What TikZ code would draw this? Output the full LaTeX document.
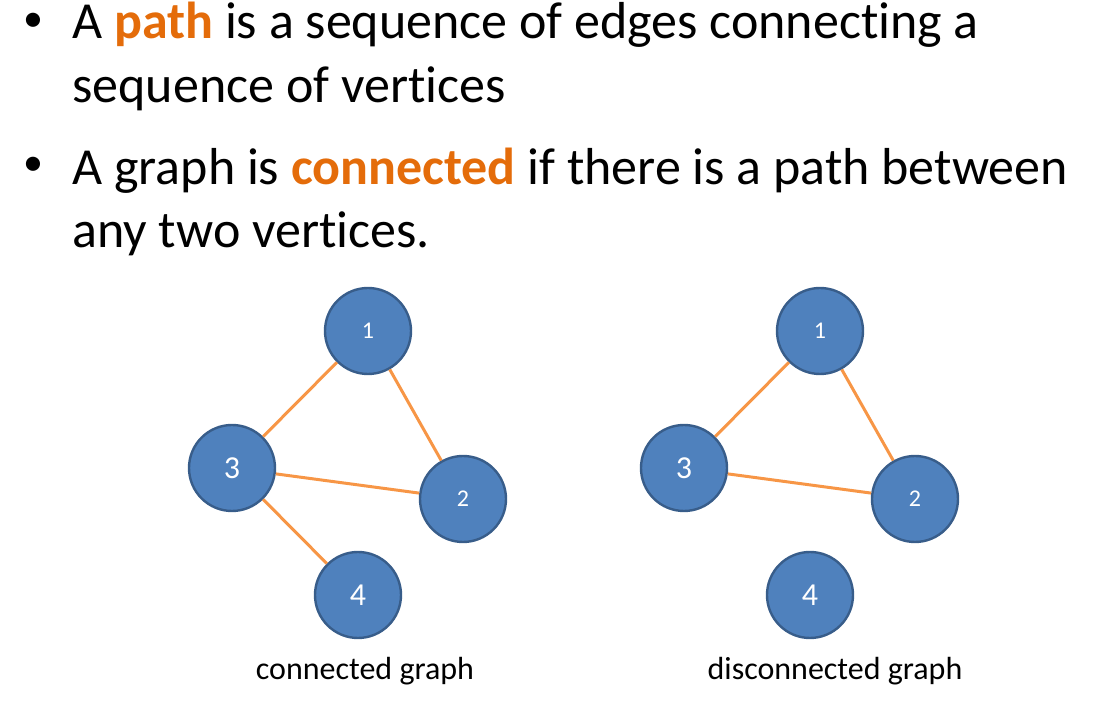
\documentclass[tikz,border=0pt]{standalone}
\usepackage{fontspec}
\setmainfont{Carlito}[Ligatures=NoCommon]
\definecolor{vertexblue}{HTML}{4F81BD}
\definecolor{vertexrim}{HTML}{385D8A}
\definecolor{linkorange}{HTML}{F79646}
\definecolor{keyorange}{HTML}{E46C0A}
\newcommand{\keyword}[1]{\textcolor{keyorange}{\textbf{#1}}}

\begin{document}
\begin{tikzpicture}[x=0.5pt, y=-0.5pt,
    vertex/.style={circle, draw=vertexrim, fill=vertexblue, line width=1.2pt,
                   minimum size=43pt, inner sep=0pt, text=white},
    smalldigit/.style={font=\fontsize{12}{14}\selectfont},
    bigdigit/.style={font=\fontsize{16}{18}\selectfont},
    link/.style={linkorange, line width=1.5pt},
    line/.style={anchor=base west, inner sep=0pt, font=\fontsize{26}{30}\selectfont},
    dot/.style={anchor=base, inner sep=0pt, font=\fontsize{20}{24}\selectfont},
    caption/.style={anchor=base, inner sep=0pt, font=\fontsize{16}{18}\selectfont}]
    \useasboundingbox (0,0) rectangle (1100,704);
    % Bullets
    \node[dot] (b1) at (33,32) {\textbullet};
    \node[line] (l1) at (72,39) {A \keyword{path} is a sequence of edges connecting a};
    \node[line] (l2) at (72,103) {sequence of vertices};
    \node[dot] (b2) at (33,176) {\textbullet};
    \node[line] (l3) at (72,185) {A graph is \keyword{connected} if there is a path between};
    \node[line] (l4) at (72,248) {any two vertices.};
    % Connected graph
    \node[vertex, smalldigit] (c1) at (368,331) {1};
    \node[vertex, smalldigit] (c2) at (463,499) {2};
    \node[vertex, bigdigit] (c3) at (232,468) {3};
    \node[vertex, bigdigit] (c4) at (358,595) {4};
    \draw[link] (c1) -- (c3);
    \draw[link] (c1) -- (c2);
    \draw[link] (c3) -- (c2);
    \draw[link] (c3) -- (c4);
    \node[caption] (cap1) at (365,680) {connected graph};
    % Disconnected graph
    \node[vertex, smalldigit] (d1) at (820,331) {1};
    \node[vertex, smalldigit] (d2) at (915,499) {2};
    \node[vertex, bigdigit] (d3) at (684,468) {3};
    \node[vertex, bigdigit] (d4) at (810,595) {4};
    \draw[link] (d1) -- (d3);
    \draw[link] (d1) -- (d2);
    \draw[link] (d3) -- (d2);
    \node[caption] (cap2) at (835,680) {disconnected graph};
\end{tikzpicture}
\end{document}
